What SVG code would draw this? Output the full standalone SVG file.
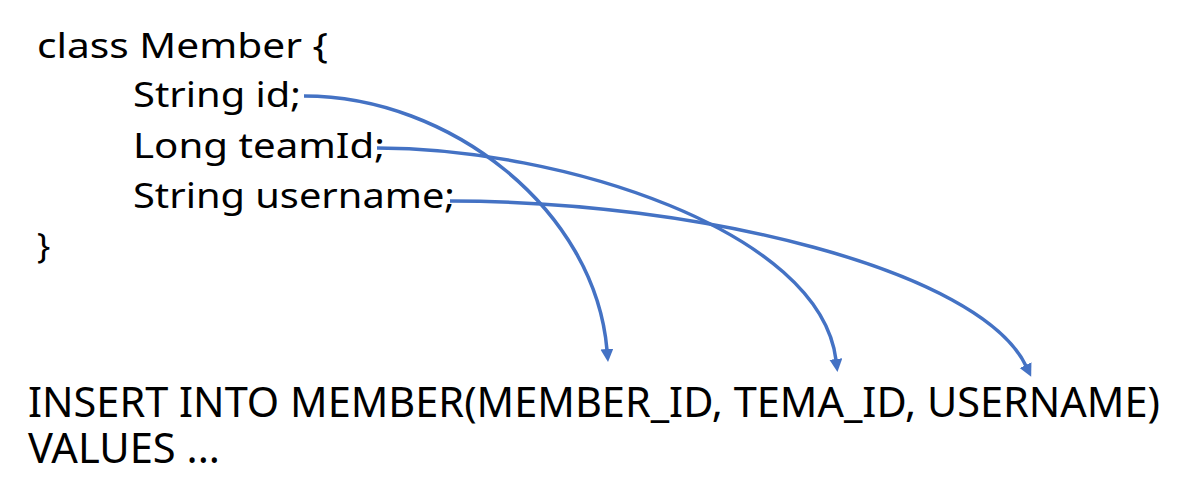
<svg xmlns="http://www.w3.org/2000/svg" width="1204" height="497" viewBox="0 0 1204 497">
<style>
.code{font-family:"Noto Sans","Noto Sans CJK KR",sans-serif;font-size:35px;fill:#000}
.sql{font-family:"Noto Sans","Noto Sans CJK KR",sans-serif;font-size:42px;fill:#000}
.conn{fill:none;stroke:#4472C4;stroke-width:3.5}
</style>
<defs>
<marker id="arr" markerUnits="userSpaceOnUse" markerWidth="16" markerHeight="14" refX="1" refY="6.5" orient="auto">
<path d="M0,0 L13,6.5 L0,13 z" fill="#4472C4"/>
</marker>
</defs>
<rect width="1204" height="497" fill="#fff"/>
<g id="class-member">
<text class="code" x="37" y="58" textLength="291" lengthAdjust="spacingAndGlyphs">class Member {</text>
<text class="code" x="133" y="107" textLength="168" lengthAdjust="spacingAndGlyphs">String id;</text>
<text class="code" x="133" y="158" textLength="252" lengthAdjust="spacingAndGlyphs">Long teamId;</text>
<text class="code" x="133" y="208" textLength="322" lengthAdjust="spacingAndGlyphs">String username;</text>
<text class="code" x="37" y="258">}</text>
</g>
<g id="sql">
<text class="sql" x="28" y="417" textLength="1132" lengthAdjust="spacingAndGlyphs">INSERT INTO MEMBER(MEMBER_ID, TEMA_ID, USERNAME)</text>
<text class="sql" x="28" y="463" textLength="192" lengthAdjust="spacingAndGlyphs">VALUES ...</text>
</g>
<g id="connectors">
<path class="conn" marker-end="url(#arr)" d="M304,96 C450,96 595,210 607,350"/>
<path class="conn" marker-end="url(#arr)" d="M377,148 C560,148 820,230 836,360"/>
<path class="conn" marker-end="url(#arr)" d="M450,201 C700,201 980,270 1026,366"/>
</g>
</svg>
